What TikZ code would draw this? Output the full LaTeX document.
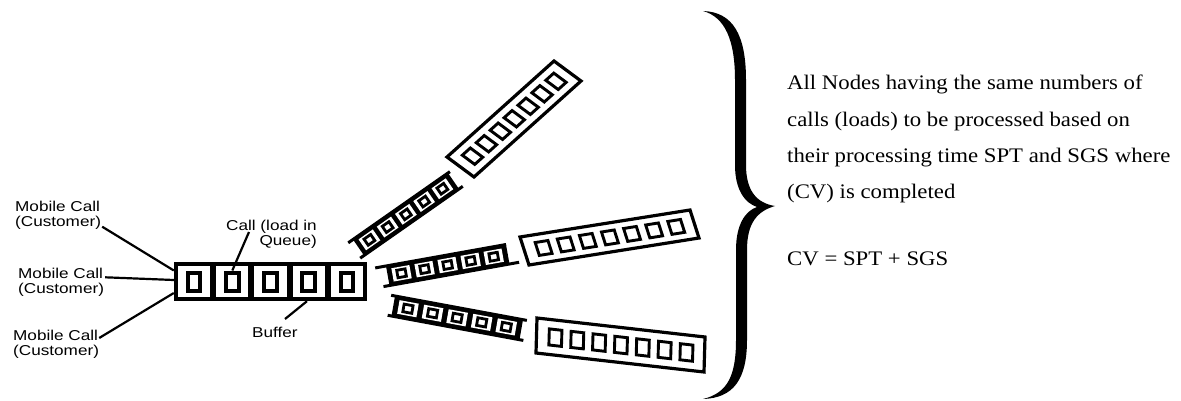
\documentclass[tikz,border=0pt]{standalone}
\usepackage{fontspec}
\setmainfont{Liberation Serif}
\newfontfamily\labfont[FakeStretch=1.2]{Liberation Sans}
\newfontfamily\txtfont[FakeStretch=1.1]{Liberation Serif}
\usetikzlibrary{calc}
\tikzset{
  lab/.style={inner sep=0pt, font=\labfont\fontsize{14.3}{15}\selectfont},
  txt/.style={inner sep=0pt, font=\txtfont\fontsize{20.7}{36.3}\selectfont},
  leader/.style={line width=2.2pt},
  cellbox/.style={fill=white, inner sep=0pt, minimum width=32.2pt, minimum height=31pt},
  callsq/.style={draw=black, line width=4pt, inner sep=0pt, minimum width=12.5pt, minimum height=18pt, fill=white},
  rail/.style={line width=3pt},
  insq/.style={line width=2.8pt},
  lsq/.style={line width=2.9pt},
  lframe/.style={line width=3.2pt},
}
\newcommand{\para}[4]{(#1,#2) -- (#3,#2) -- (#3,#4) -- (#1,#4) -- cycle}
% ladder: #1 origin, #2 u (canvas), #3 v (canvas), #4,#5 top rail range, #6,#7 bottom rail range
\newcommand{\ladder}[7]{%
  \begin{scope}[shift={(#1)}, x={(#2)}, y={(#3)}]
    \fill \para{0}{0}{1}{1};
    \foreach \i in {0,...,4}{%
      \fill[white] \para{0.04+\i*0.192}{0.16}{0.19+\i*0.192}{0.84};
      \draw[insq] \para{0.08+\i*0.192}{0.31}{0.15+\i*0.192}{0.69};
    }
    \draw[rail] (#4,0) -- (#5,0);
    \draw[rail] (#6,1) -- (#7,1);
  \end{scope}%
}
% long frame with seven squares: #1 origin, #2 u, #3 v
\newcommand{\longframe}[3]{%
  \begin{scope}[shift={(#1)}, x={(#2)}, y={(#3)}]
    \fill[white] \para{0}{0}{1}{1};
    \draw[lframe] \para{0}{0}{1}{1};
    \foreach \i in {0,...,6}{%
      \draw[lsq] \para{0.075+\i*0.13}{0.27}{0.15+\i*0.13}{0.73};
    }
  \end{scope}%
}
\begin{document}
\begin{tikzpicture}[x=1pt, y=-1pt, line join=miter]
\useasboundingbox (0,0) rectangle (1181,401);
\fill[white] (0,0) rectangle (1181,401);

% main buffer
\node[fill=black, inner sep=0pt, minimum width=193pt, minimum height=39pt] (buf) at (270.5,281.5) {};
\foreach \i in {1,...,5}{%
  \node[cellbox] (c\i) at ({194.1+(\i-1)*38.2},281.5) {};
  \node[callsq] (q\i) at (c\i) {};
}

% labels
\node[lab, anchor=base west] (lab1) at (15,211.7) {\begin{tabular}[t]{@{}l@{}}Mobile Call\\(Customer)\end{tabular}};
\node[lab, anchor=base west] (lab2) at (18,278.3) {\begin{tabular}[t]{@{}l@{}}Mobile Call\\(Customer)\end{tabular}};
\node[lab, anchor=base west] (lab3) at (13,340) {\begin{tabular}[t]{@{}l@{}}Mobile Call\\(Customer)\end{tabular}};
\node[lab, anchor=base east] (call) at (317,230) {\begin{tabular}[t]{@{}r@{}}Call (load in\\Queue)\end{tabular}};
\node[lab, anchor=base west] (bufl) at (252,337) {Buffer};

% leader lines
\draw[leader] ($(lab1.base east)+(1,15)$) -- ($(buf.west)+(0,-11)$);
\draw[leader] ($(lab2.base east)+(1,-1)$) -- ($(buf.west)+(0,-1.5)$);
\draw[leader] ($(lab3.base east)+(0,-2)$) -- ($(buf.west)+(0,11.5)$);
\draw[leader] ($(call.base west)+(23,2)$) -- (q2.north);
\draw[leader] ($(bufl.base west)+(33,-18)$) -- ($(buf.south)+(36.5,0)$);

% branches
\ladder{353,239.5}{95pt,66.5pt}{11pt,-16pt}{-0.05}{1.02}{-0.04}{1.04}
\longframe{447,157}{107pt,96pt}{27pt,-20pt}
\ladder{386,266}{120pt,21.5pt}{3.5pt,-19.5pt}{-0.09}{1.0}{-0.05}{1.08}
\longframe{520,237}{170pt,27pt}{9pt,-28pt}
\ladder{395,296}{128pt,-23.7pt}{-3.5pt,-20pt}{-0.03}{1.03}{-0.03}{1.03}
\longframe{537,318}{168pt,-19pt}{-1pt,-35pt}

% brace
\fill (703,11) .. controls (733,12) and (746,35) .. (746,80)
  -- (746,165)
  .. controls (746,190) and (756,203) .. (775,206)
  .. controls (758,211) and (747,222) .. (747,250)
  -- (747,340)
  .. controls (747,380) and (733,398) .. (703,399)
  .. controls (728,393) and (736,375) .. (736,340)
  -- (736,250)
  .. controls (736,225) and (745,211) .. (757,207)
  .. controls (745,203) and (735,190) .. (735,165)
  -- (735,80)
  .. controls (735,40) and (725,17) .. (703,11) -- cycle;

% description
\node[txt, anchor=base west] (desc) at (787,90) {\begin{tabular}[t]{@{}l@{}}All Nodes having the same numbers of\\calls (loads) to be processed based on\\their processing time SPT and SGS where\\(CV) is completed\end{tabular}};
\node[txt, anchor=base west] (cv) at (787,265) {CV = SPT + SGS};
\end{tikzpicture}
\end{document}
